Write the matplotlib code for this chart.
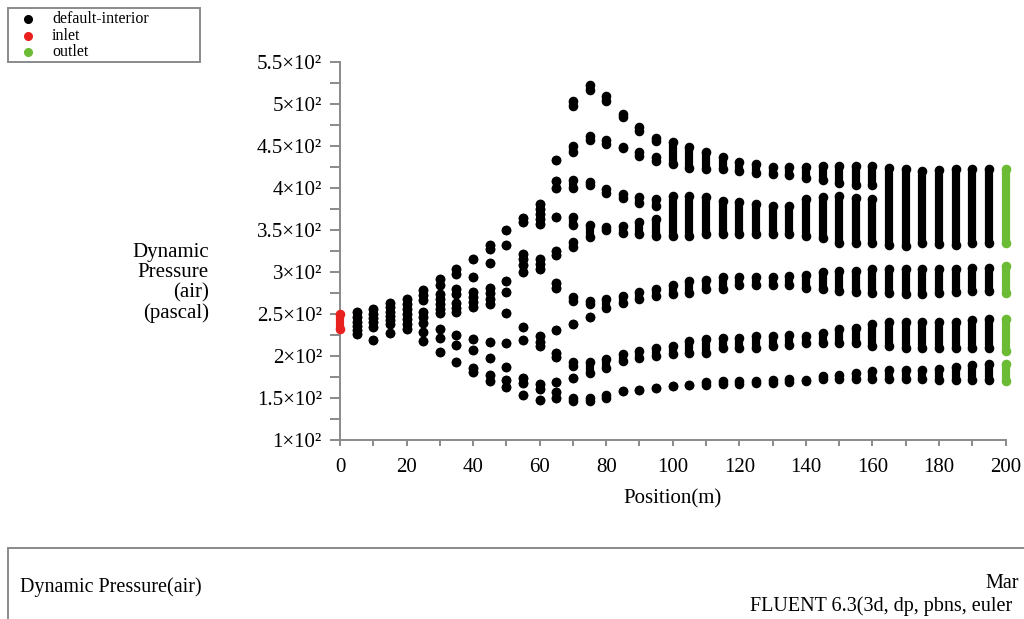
import matplotlib
matplotlib.use("Agg")
import matplotlib.pyplot as plt
from matplotlib.patches import Rectangle
from matplotlib.lines import Line2D

plt.rcParams['font.family'] = ['Liberation Serif', 'DejaVu Serif']

# position (m) of each column of points, and for each column the dots / dot runs
# (a number is one dot, a pair (lo, hi) is a run of dots), dynamic pressure in Pa
inlet_x = [0]
inlet_p = [[(232, 250)]]

interior_x = [5, 10, 15, 20, 25, 30, 35, 40, 45, 50, 55, 60, 65,
              70, 75, 80, 85, 90, 95, 100, 105, 110, 115, 120, 125, 130, 135,
              140, 145, 150, 155, 160, 165, 170, 175, 180, 185, 190, 195]
interior_p = [
    [253, 247, 241, 236, 231, 226],
    [256, 250, 245, 240, 234, 219],
    [263, 258, 253, 248, 243, 238, 227],
    [268, 262, 256, 250, 244, 238, 232],
    [279, 273, 267, 252, 246, 239, 229, 218],
    [292, 284, 274, 268, 262, 256, 251, 232, 221, 205],
    [304, 298, 280, 274, 263, 257, 252, 225, 213, 193],
    [315, 294, 276, 270, 264, 258, 220, 207, 186, 181],
    [332, 327, 311, 281, 275, 268, 262, 217, 198, 177, 170],
    [350, 332, 289, 276, 251, 215, 187, 171, 163],
    [364, 359, 322, 316, 308, 300, 235, 219, 174, 168, 154],
    [381, 375, 369, 363, 357, 316, 310, 303, 224, 217, 212, 167, 161, 148],
    [433, 408, 400, 366, 325, 320, 287, 281, 231, 204, 199, 169, 157, 150],
    [(497, 503), (443, 450), (400, 409), (356, 366), (330, 336), (265, 270), 238, (188, 193), 174, (146, 150)],
    [(516, 522), (457, 462), (403, 407), (342, 356), (262, 266), 247, (180, 193), (146, 150)],
    [(504, 509), (452, 457), (394, 399), (350, 354), (257, 268), (186, 196), (150, 154)],
    [(484, 488), (447, 449), (388, 393), (347, 355), (263, 271), (194, 202), 158],
    [(468, 472), (438, 443), (382, 389), (345, 360), (268, 276), (198, 206), 160],
    [(456, 460), (432, 437), (379, 387), (343, 363), (272, 280), (200, 210), 162],
    [(429, 455), (343, 390), (274, 285), (203, 212), 164],
    [(424, 449), (343, 390), (275, 289), (204, 218), 165],
    [(423, 443), (345, 389), (280, 291), (204, 220), (165, 169)],
    [(423, 437), (345, 385), (280, 294), (209, 222), (167, 170)],
    [(420, 431), (345, 383), (284, 294), (209, 222), (167, 170)],
    [(418, 428), (345, 381), (284, 294), (210, 224), (168, 170)],
    [(417, 425), (345, 378), (284, 294), (212, 224), (168, 172)],
    [(416, 425), (345, 378), (284, 295), (213, 225), (169, 173)],
    [(412, 425), (343, 387), (281, 297), (215, 224), (170, 172)],
    [(409, 426), (340, 389), (280, 300), (215, 228), (173, 176)],
    [(406, 426), (335, 390), (278, 301), (215, 232), (173, 178)],
    [(404, 426), (335, 388), (276, 301), (215, 233), (173, 180)],
    [(403, 426), (334, 387), (275, 303), (212, 238), (173, 182)],
    [(332, 424), (275, 303), (212, 240), (173, 183)],
    [(331, 422), (274, 303), (210, 241), (173, 184)],
    [(334, 420), (274, 303), (210, 240), (173, 184)],
    [(333, 421), (275, 303), (210, 241), (171, 185)],
    [(332, 422), (276, 303), (209, 241), (171, 187)],
    [(334, 422), (278, 305), (209, 243), (171, 189)],
    [(335, 422), (278, 305), (209, 244), (171, 190)],
]

outlet_x = [200]
outlet_p = [[(335, 422), (275, 307), (206, 244), (170, 190)]]

y_ticks = [100, 150, 200, 250, 300, 350, 400, 450, 500, 550]
y_tick_labels = ['1×10²', '1.5×10²', '2×10²', '2.5×10²', '3×10²',
                 '3.5×10²', '4×10²', '4.5×10²', '5×10²', '5.5×10²']
x_ticks = [0, 20, 40, 60, 80, 100, 120, 140, 160, 180, 200]

zones = ['default-interior', 'inlet', 'outlet']
zone_colors = ['#000000', '#e8201e', '#6cbb34']

GRAY = '#8a8a8a'
DOT = 5.9  # dot diameter in points


def draw_zone(ax, xs, cols, color):
    for x, col in zip(xs, cols):
        for v in col:
            lo, hi = (v, v) if not isinstance(v, tuple) else v
            ax.plot([x, x], [lo, hi], color=color, lw=DOT, marker='o', ms=DOT,
                    mec=color, mfc=color, solid_capstyle='butt', clip_on=False, zorder=3)


fig = plt.figure(figsize=(10.24, 6.19), dpi=100)
ax = fig.add_axes([0.332, 0.289, 0.650, 0.611])

draw_zone(ax, interior_x, interior_p, zone_colors[0])
draw_zone(ax, inlet_x, inlet_p, zone_colors[1])
draw_zone(ax, outlet_x, outlet_p, zone_colors[2])

ax.set_xlim(0, 200)
ax.set_ylim(100, 550)
for s in ['top', 'right']:
    ax.spines[s].set_visible(False)
for s in ['left', 'bottom']:
    ax.spines[s].set_color(GRAY)
    ax.spines[s].set_linewidth(1.4)

ax.set_yticks(y_ticks)
ax.set_yticklabels(y_tick_labels)
ax.set_yticks([125, 175, 225, 275, 325, 375, 425, 475, 525], minor=True)
ax.set_xticks(x_ticks)
ax.set_xticks(range(10, 200, 20), minor=True)
ax.tick_params(axis='y', which='both', direction='out', length=7, width=1.4,
               color=GRAY, labelsize=15, pad=6)
ax.tick_params(axis='x', which='both', direction='out', length=4, width=1.4,
               color=GRAY, labelsize=15, pad=9)
ax.set_xlabel('Position(m)', fontsize=15, labelpad=9)

fig.text(0.204, 0.543, 'Dynamic\nPressure\n(air)\n(pascal)', ha='right', va='center',
         multialignment='right', fontsize=15, linespacing=1.07)

# legend box
fig.add_artist(Rectangle((0.0078, 0.8998), 0.1875, 0.0872, transform=fig.transFigure,
                         fill=False, edgecolor=GRAY, lw=1.4))
for i, (name, c) in enumerate(zip(zones, zone_colors)):
    y = 0.9693 - i * 0.0267
    fig.add_artist(Line2D([0.0273], [y], transform=fig.transFigure, marker='o',
                          ms=5.5, color=c, lw=0))
    fig.text(0.0508, y, name, fontsize=11.5, va='center', ha='left')

# title box at bottom
fig.add_artist(Rectangle((0.0078, -0.05), 1.0, 0.165, transform=fig.transFigure,
                         fill=False, edgecolor=GRAY, lw=1.4))
fig.text(0.0195, 0.052, 'Dynamic Pressure(air)', fontsize=14.5, va='center', ha='left')
fig.text(0.995, 0.058, 'Mar', fontsize=14.5, va='center', ha='right')
fig.text(0.732, 0.021, 'FLUENT 6.3(3d, dp, pbns, euler', fontsize=14.5, va='center', ha='left')

fig.savefig('out.png', dpi=100)
